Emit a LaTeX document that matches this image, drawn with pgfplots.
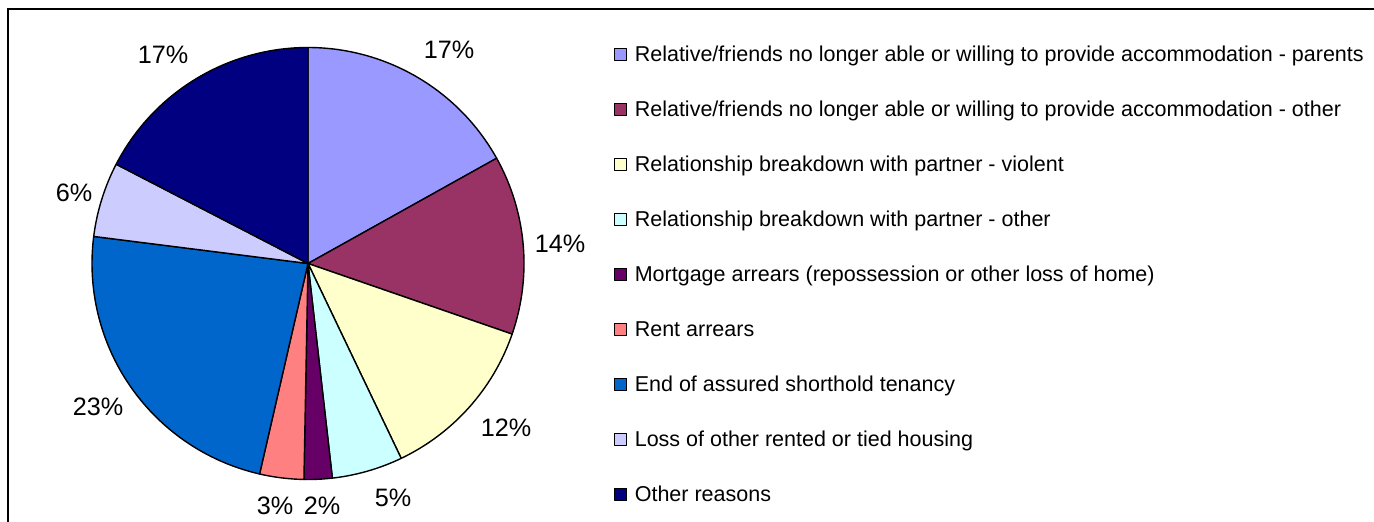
\documentclass[border=0pt]{standalone}
\usepackage{pgfplots}
\pgfplotsset{compat=1.18}
\usepackage{fontspec}
\setmainfont{Liberation Sans}
\definecolor{c1}{HTML}{9999FF}
\definecolor{c2}{HTML}{993366}
\definecolor{c3}{HTML}{FFFFCC}
\definecolor{c4}{HTML}{CCFFFF}
\definecolor{c5}{HTML}{660066}
\definecolor{c6}{HTML}{FF8080}
\definecolor{c7}{HTML}{0066CC}
\definecolor{c8}{HTML}{CCCCFF}
\definecolor{c9}{HTML}{000080}
% shares in percent
% 16.9, 13.4, 12.6, 5.3, 2.1, 3.3, 23.4, 5.6, 17.4
\newcommand{\cx}{308}
\newcommand{\cy}{263.5}
\newcommand{\rr}{216}
\newcommand{\lgd}{\fontsize{10.75}{12.9}\selectfont}
\newcommand{\lbl}{\fontsize{12.6}{15}\selectfont}
\begin{document}
\begin{tikzpicture}
\begin{axis}[
  width=687pt, height=261pt, scale only axis,
  xmin=0, xmax=1374, ymin=0, ymax=522, y dir=reverse,
  hide axis, clip=false,
  legend cell align=left,
  legend image code/.code={\draw[#1,draw=black,line width=0.6pt] (0pt,-3.1pt) rectangle (6pt,3.1pt);},
  legend style={at={(axis cs:614,44)}, anchor=north west, draw=none, fill=none,
    inner sep=0pt, outer sep=0pt, row sep=17pt, column sep=3.8pt,
    font=\lgd, nodes={inner sep=0pt, text height=9pt, text depth=1.5pt}},
  every axis plot/.append style={draw=black, line width=0.7pt, line join=round, samples=80},
]
\addplot[fill=c1, domain=0:60.84] ({\cx+\rr*sin(x)},{\cy-\rr*cos(x)}) -- (axis cs:\cx,\cy) -- cycle;
\addlegendentry{Relative/friends no longer able or willing to provide accommodation - parents}
\addplot[fill=c2, domain=60.84:109.08] ({\cx+\rr*sin(x)},{\cy-\rr*cos(x)}) -- (axis cs:\cx,\cy) -- cycle;
\addlegendentry{Relative/friends no longer able or willing to provide accommodation - other}
\addplot[fill=c3, domain=109.08:154.44] ({\cx+\rr*sin(x)},{\cy-\rr*cos(x)}) -- (axis cs:\cx,\cy) -- cycle;
\addlegendentry{Relationship breakdown with partner - violent}
\addplot[fill=c4, domain=154.44:173.52] ({\cx+\rr*sin(x)},{\cy-\rr*cos(x)}) -- (axis cs:\cx,\cy) -- cycle;
\addlegendentry{Relationship breakdown with partner - other}
\addplot[fill=c5, domain=173.52:181.08] ({\cx+\rr*sin(x)},{\cy-\rr*cos(x)}) -- (axis cs:\cx,\cy) -- cycle;
\addlegendentry{Mortgage arrears (repossession or other loss of home)}
\addplot[fill=c6, domain=181.08:192.96] ({\cx+\rr*sin(x)},{\cy-\rr*cos(x)}) -- (axis cs:\cx,\cy) -- cycle;
\addlegendentry{Rent arrears}
\addplot[fill=c7, domain=192.96:277.2] ({\cx+\rr*sin(x)},{\cy-\rr*cos(x)}) -- (axis cs:\cx,\cy) -- cycle;
\addlegendentry{End of assured shorthold tenancy}
\addplot[fill=c8, domain=277.2:297.36] ({\cx+\rr*sin(x)},{\cy-\rr*cos(x)}) -- (axis cs:\cx,\cy) -- cycle;
\addlegendentry{Loss of other rented or tied housing}
\addplot[fill=c9, domain=297.36:360] ({\cx+\rr*sin(x)},{\cy-\rr*cos(x)}) -- (axis cs:\cx,\cy) -- cycle;
\addlegendentry{Other reasons}
% percentage labels
\node[font=\lbl] at (axis cs:449,50) {17\%};
\node[font=\lbl] at (axis cs:560,244) {14\%};
\node[font=\lbl] at (axis cs:506,428) {12\%};
\node[font=\lbl] at (axis cs:393,498) {5\%};
\node[font=\lbl] at (axis cs:322,506) {2\%};
\node[font=\lbl] at (axis cs:275,506) {3\%};
\node[font=\lbl] at (axis cs:98,407) {23\%};
\node[font=\lbl] at (axis cs:74,193) {6\%};
\node[font=\lbl] at (axis cs:163,55) {17\%};
% chart frame (top and left edges visible)
\draw[black, line width=0.7pt] (axis cs:1374,9) -- (axis cs:8,9) -- (axis cs:8,522);
\end{axis}
\pgfresetboundingbox
\path (0,0) rectangle (687pt,261pt);
\end{tikzpicture}
\end{document}
